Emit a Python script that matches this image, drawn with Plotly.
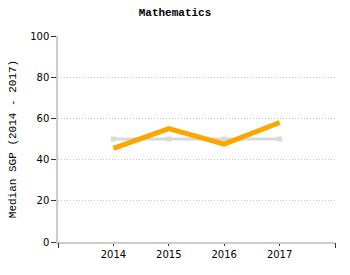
import plotly.graph_objects as go

years = [2014, 2015, 2016, 2017]
median_sgp = [45.5, 55, 47.5, 58]
reference = [50, 50, 50, 50]
y_ticks = [0, 20, 40, 60, 80, 100]

fig = go.Figure()
fig.add_trace(go.Scatter(x=years, y=reference, mode="lines+markers",
                         line=dict(color="#d9d9d9", width=3),
                         marker=dict(symbol="square", size=5, color="#d9d9d9"),
                         hoverinfo="skip", showlegend=False))
fig.add_trace(go.Scatter(x=years, y=median_sgp, mode="lines",
                         line=dict(color="#ffa500", width=5),
                         showlegend=False))
# dummy trace for end-tick axis
fig.add_trace(go.Scatter(x=[2013, 2018], y=[None, None], xaxis="x2", mode="lines",
                         showlegend=False, hoverinfo="skip"))

fig.update_layout(
    width=350, height=275,
    margin=dict(l=58, r=15, t=36, b=33),
    paper_bgcolor="white", plot_bgcolor="white",
    title=dict(text="<b>Mathematics</b>", x=0.5, xanchor="center", y=0.97, yanchor="top",
               font=dict(family="Liberation Mono", size=11, color="black")),
    xaxis=dict(range=[2013, 2018], tickvals=years, ticktext=[str(y) for y in years],
               ticks="outside", ticklen=2, tickcolor="#333", showgrid=False,
               showline=True, linecolor="#cccccc", linewidth=1.5, zeroline=False,
               tickfont=dict(family="DejaVu Sans", size=10, color="black")),
    xaxis2=dict(range=[2013, 2018], overlaying="x", side="bottom", tickvals=[2013, 2018],
                showticklabels=False, ticks="outside", ticklen=5, tickcolor="#333",
                showgrid=False, showline=False, zeroline=False),
    yaxis=dict(range=[0, 100], tickvals=y_ticks, ticks="outside", ticklen=5, tickcolor="#333",
               showgrid=True, gridcolor="#c4c4c4", griddash="1px,2px", gridwidth=1,
               showline=True, linecolor="#cccccc", linewidth=1.5, zeroline=False,
               tickfont=dict(family="DejaVu Sans", size=10, color="black"),
               title=dict(text="Median SGP (2014 - 2017)", standoff=11,
                          font=dict(family="Liberation Mono", size=11, color="black"))),
)

fig.write_html("out.html")
